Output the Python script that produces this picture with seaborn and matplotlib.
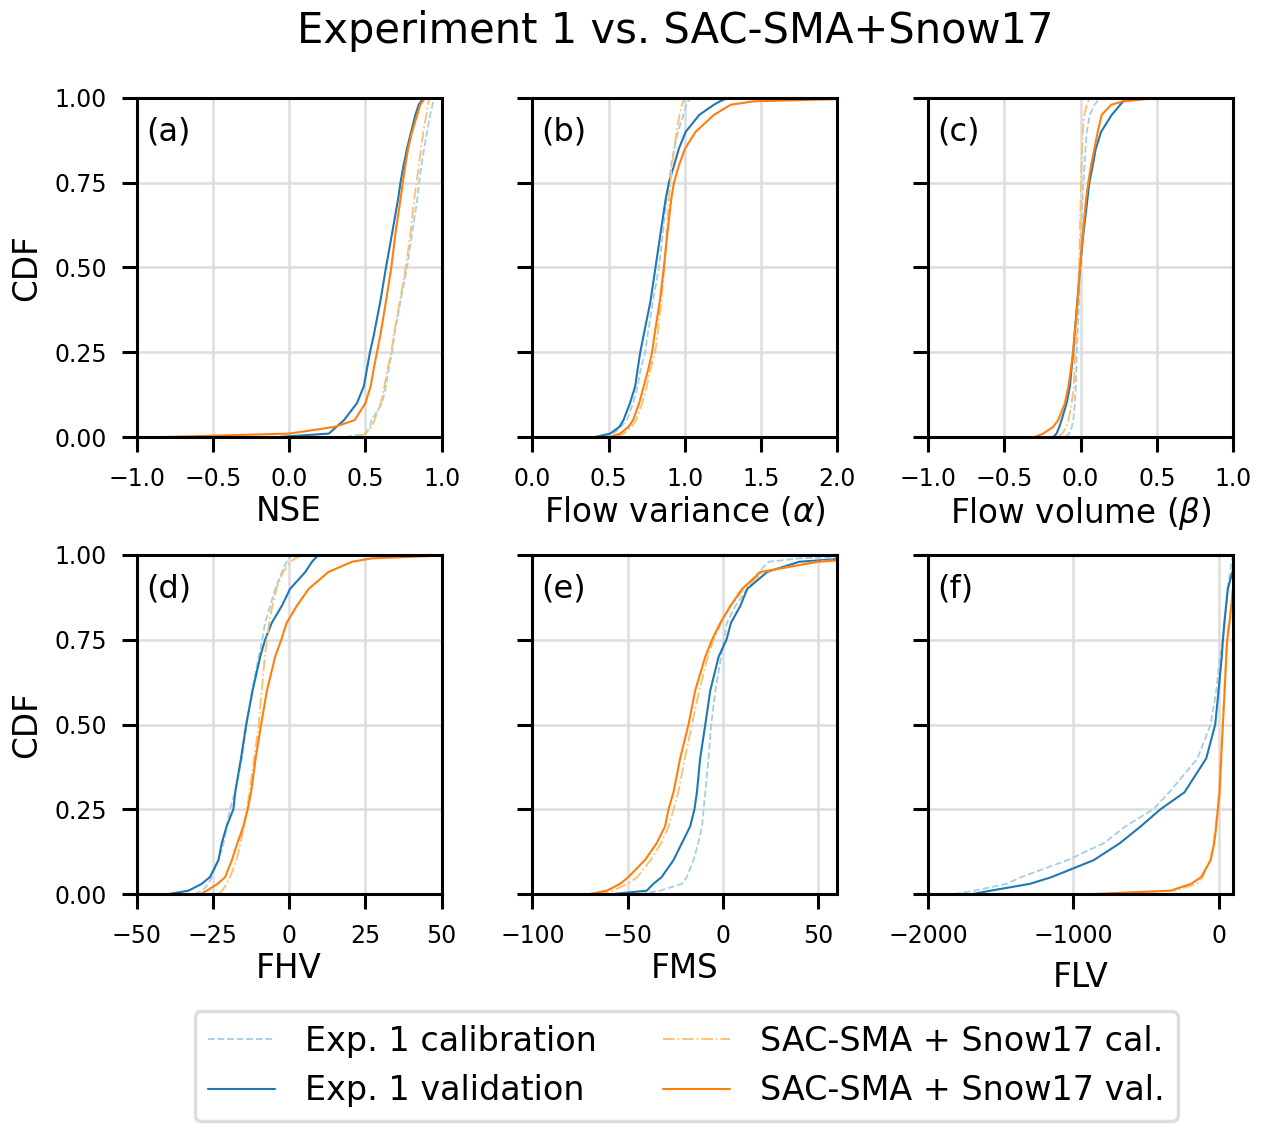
import numpy as np
import pandas as pd
import matplotlib
matplotlib.use("Agg")
import matplotlib.pyplot as plt
import seaborn as sns

cdf_levels = [0, 0.01, 0.03, 0.05, 0.1, 0.15, 0.2, 0.25, 0.3, 0.4, 0.5,
              0.6, 0.7, 0.75, 0.8, 0.85, 0.9, 0.95, 0.98, 0.99, 1.0]

series_labels = ["Exp. 1 calibration", "Exp. 1 validation",
                 "SAC-SMA + Snow17 cal.", "SAC-SMA + Snow17 val."]

# NSE
nse_exp_cal = [0.37, 0.50, 0.53, 0.54, 0.61, 0.635, 0.653, 0.675, 0.69, 0.73, 0.773,
               0.806, 0.84, 0.852, 0.867, 0.885, 0.905, 0.925, 0.94, 0.945, 0.95]
nse_exp_val = [-0.07, 0.26, 0.31, 0.36, 0.445, 0.49, 0.51, 0.53, 0.555, 0.598, 0.635,
               0.675, 0.714, 0.73, 0.75, 0.773, 0.80, 0.828, 0.85, 0.865, 0.885]
nse_sac_cal = [0.455, 0.50, 0.54, 0.56, 0.60, 0.625, 0.645, 0.67, 0.685, 0.725, 0.765,
               0.795, 0.82, 0.835, 0.85, 0.865, 0.88, 0.90, 0.91, 0.915, 0.92]
nse_sac_val = [-0.82, 0.0, 0.30, 0.43, 0.50, 0.535, 0.554, 0.576, 0.598, 0.635, 0.67,
               0.697, 0.73, 0.745, 0.762, 0.78, 0.806, 0.84, 0.86, 0.875, 0.894]

# Flow variance (alpha)
alpha_exp_cal = [0.47, 0.53, 0.58, 0.62, 0.66, 0.69, 0.71, 0.74, 0.755, 0.79, 0.83,
                 0.855, 0.88, 0.895, 0.91, 0.93, 0.955, 0.99, 1.01, 1.02, 1.04]
alpha_exp_val = [0.41, 0.51, 0.57, 0.597, 0.64, 0.674, 0.69, 0.707, 0.729, 0.774, 0.807,
                 0.84, 0.873, 0.895, 0.928, 0.96, 1.005, 1.094, 1.19, 1.23, 1.28]
alpha_sac_cal = [0.55, 0.60, 0.65, 0.68, 0.72, 0.75, 0.775, 0.805, 0.82, 0.845, 0.865,
                 0.88, 0.895, 0.905, 0.915, 0.93, 0.945, 0.965, 0.98, 0.99, 1.0]
alpha_sac_val = [0.51, 0.575, 0.63, 0.66, 0.70, 0.73, 0.76, 0.785, 0.80, 0.835, 0.862,
                 0.885, 0.91, 0.928, 0.96, 1.0, 1.07, 1.19, 1.30, 1.45, 2.3]

# Flow volume (beta)
beta_exp_cal = [-0.10, -0.075, -0.058, -0.048, -0.038, -0.032, -0.028, -0.025, -0.02, -0.01, -0.004,
                0.003, 0.012, 0.018, 0.025, 0.032, 0.04, 0.06, 0.09, 0.11, 0.14]
beta_exp_val = [-0.18, -0.158, -0.14, -0.125, -0.092, -0.07, -0.06, -0.048, -0.04, -0.022, -0.004,
                0.018, 0.044, 0.057, 0.079, 0.099, 0.134, 0.204, 0.26, 0.28, 0.30]
beta_sac_cal = [-0.15, -0.12, -0.095, -0.08, -0.058, -0.045, -0.04, -0.037, -0.03, -0.018, -0.01,
                -0.005, 0.0, 0.002, 0.006, 0.01, 0.014, 0.024, 0.04, 0.05, 0.06]
beta_sac_val = [-0.30, -0.246, -0.18, -0.147, -0.103, -0.08, -0.064, -0.05, -0.04, -0.02, -0.004,
                0.015, 0.035, 0.05, 0.068, 0.09, 0.112, 0.138, 0.20, 0.28, 0.51]

# FHV
fhv_exp_cal = [-31, -28.5, -26.5, -25.4, -23.2, -21.5, -20.5, -19.4, -17.8, -15.5, -13.9,
               -12.2, -10, -8.8, -7.9, -6.2, -4.6, -2.4, -0.8, 0, 0.9]
fhv_exp_val = [-39.6, -33, -28.7, -26, -23.2, -22.1, -20.5, -18.3, -17.7, -15.8, -14.1,
               -12, -9.5, -7.9, -5.7, -2.4, 0.3, 5.3, 7.5, 8.5, 9.6]
fhv_sac_cal = [-23, -22, -20.5, -19.4, -17.2, -16, -14.8, -13.9, -13, -11.5, -10,
               -9, -8, -7.3, -6.6, -5.5, -4.2, -2, 0.5, 2, 4.2]
fhv_sac_val = [-29, -27, -23.5, -21, -18.8, -17, -15, -13.6, -12.5, -11, -9.2,
               -7.3, -4.6, -2.6, -0.8, 2.5, 6.4, 12.9, 20.6, 27, 55]

# FMS
fms_exp_cal = [-43.6, -33, -21.6, -19, -15.5, -13, -11, -10.2, -9.3, -7.6, -6.2,
               -4, -1, 0.4, 2.1, 6.5, 12.7, 18.8, 24, 40, 90]
fms_exp_val = [-57.6, -40, -36.6, -32.2, -26, -21.6, -17.2, -15, -13.7, -12, -9.3,
               -6.7, -2.3, 1.8, 4.2, 9.1, 12.7, 23.2, 40, 65, 90]
fms_sac_cal = [-66, -58, -50, -45, -38, -32.5, -28.5, -26, -23.5, -20, -16.3,
               -12.5, -8, -4.9, -1, 4, 11, 21, 48, 72, 95]
fms_sac_val = [-70, -61, -54, -49.7, -41, -34.8, -30.4, -28.6, -26, -22.5, -18.1,
               -14.6, -9.3, -5.8, -1.4, 3.9, 10, 19.7, 50, 75, 95]

# FLV
flv_exp_cal = [-1820, -1683, -1460, -1360, -1040, -790, -640, -450, -340, -145, -55,
               -16, 10, 30, 40, 50, 60, 80, 90, 95, 100]
flv_exp_val = [-1694, -1570, -1300, -1150, -860, -680, -535, -400, -235, -85, -23,
               0, 22, 30, 40, 52, 64, 95, 130, 160, 200]
flv_sac_cal = [-900, -300, -150, -110, -55, -35, -20, -8, 3, 15, 28,
               40, 52, 58, 72, 85, 98, 125, 190, 280, 450]
flv_sac_val = [-855, -330, -190, -120, -55, -30, -16, -5, 7, 18, 30,
               42, 53, 60, 75, 88, 100, 130, 200, 300, 500]

panel_tags = ["(a)", "(b)", "(c)", "(d)", "(e)", "(f)"]
x_labels = ["NSE", r"Flow variance ($\alpha$)", r"Flow volume ($\beta$)", "FHV", "FMS", "FLV"]
x_limits = [(-1, 1), (0, 2), (-1, 1), (-50, 50), (-100, 60), (-2000, 100)]
x_ticks = [[-1.0, -0.5, 0.0, 0.5, 1.0], [0.0, 0.5, 1.0, 1.5, 2.0], [-1.0, -0.5, 0.0, 0.5, 1.0],
           [-50, -25, 0, 25, 50], [-100, -50, 0, 50], [-2000, -1000, 0]]
y_ticks = [0.0, 0.25, 0.5, 0.75, 1.0]

panels = [
    [nse_exp_cal, nse_exp_val, nse_sac_cal, nse_sac_val],
    [alpha_exp_cal, alpha_exp_val, alpha_sac_cal, alpha_sac_val],
    [beta_exp_cal, beta_exp_val, beta_sac_cal, beta_sac_val],
    [fhv_exp_cal, fhv_exp_val, fhv_sac_cal, fhv_sac_val],
    [fms_exp_cal, fms_exp_val, fms_sac_cal, fms_sac_val],
    [flv_exp_cal, flv_exp_val, flv_sac_cal, flv_sac_val],
]

# ---------------- style ----------------
sns.set_theme(style="whitegrid")
plt.rcParams.update({
    "font.family": ["DejaVu Sans"],
    "axes.edgecolor": "black",
    "axes.linewidth": 2.2,
    "grid.color": "#dddddd",
    "grid.linewidth": 1.8,
    "xtick.bottom": True,
    "ytick.left": True,
    "xtick.major.size": 10.6,
    "ytick.major.size": 10.6,
    "xtick.major.width": 2.2,
    "ytick.major.width": 2.2,
    "xtick.major.pad": 11,
    "ytick.major.pad": 11,
    "xtick.color": "black",
    "ytick.color": "black",
    "xtick.labelsize": 17,
    "ytick.labelsize": 17,
    "axes.labelcolor": "black",
    "text.color": "black",
})

colors = ["#a6cee3", "#1f77b4", "#fdbf6f", "#ff7f0e"]
styles = ["--", "-", "-.", "-"]
widths = [1.3, 1.5, 1.3, 1.5]

fig, axes = plt.subplots(2, 3, figsize=(12.66, 11.35), dpi=100, sharey=True)
fig.subplots_adjust(left=0.108, right=0.974, top=0.9137, bottom=0.2123,
                    wspace=0.298, hspace=0.348)

handles = None
for i, ax in enumerate(axes.flat):
    for j, vals in enumerate(panels[i]):
        df = pd.DataFrame({"value": vals, "cdf": cdf_levels})
        sns.lineplot(data=df, x="value", y="cdf", ax=ax, sort=False, estimator=None,
                     color=colors[j], linestyle=styles[j], linewidth=widths[j],
                     label=series_labels[j])
    if i == 0:
        handles, labels = ax.get_legend_handles_labels()
    ax.get_legend().remove()
    ax.set_xlim(*x_limits[i])
    ax.set_ylim(0, 1)
    ax.set_xticks(x_ticks[i])
    ax.set_yticks(y_ticks)
    ax.set_yticklabels([f"{t:.2f}" for t in y_ticks])
    ax.set_xlabel(x_labels[i], fontsize=23.5, labelpad=3 if i != 5 else 9)
    ax.set_ylabel("CDF" if i % 3 == 0 else "", fontsize=23.5, labelpad=8)
    ax.tick_params(axis="y", labelleft=(i % 3 == 0))
    ax.text(0.03, 0.90, panel_tags[i], transform=ax.transAxes, fontsize=23,
            ha="left", va="center")
    for sp in ax.spines.values():
        sp.set_color("black")
        sp.set_linewidth(2.2)

fig.suptitle("Experiment 1 vs. SAC-SMA+Snow17", fontsize=30, x=0.533, y=0.973, va="center")

leg = fig.legend(handles, series_labels, loc="center", bbox_to_anchor=(0.542, 0.0608),
                 ncol=2, fontsize=24, frameon=True, columnspacing=2.0,
                 handlelength=2.0, handletextpad=0.9, fancybox=True)
leg.get_frame().set_edgecolor("#dddddd")
leg.get_frame().set_linewidth(2.5)
leg.get_frame().set_alpha(1.0)

fig.savefig("out.png", dpi=100)
